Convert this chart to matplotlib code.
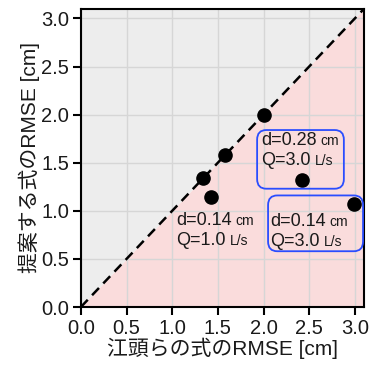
import matplotlib
matplotlib.use("Agg")
import matplotlib.pyplot as plt
from matplotlib.patches import FancyBboxPatch
from matplotlib.offsetbox import TextArea, HPacker, VPacker, AnnotationBbox
import numpy as np

plt.rcParams['font.family'] = ['Liberation Sans', 'Noto Sans CJK JP']

# data
egashira_rmse = [1.34, 1.43, 1.58, 2.00, 2.42, 2.99]
proposed_rmse = [1.34, 1.14, 1.58, 2.00, 1.32, 1.07]
ticks = [0.0, 0.5, 1.0, 1.5, 2.0, 2.5, 3.0]
lim = 3.1

# annotation labels: (d, Q, text anchor, box or None)
labels = [
    ("0.14", "1.0", (1.04, 0.99), None),
    ("0.28", "3.0", (1.97, 1.82), (1.93, 1.23, 0.95, 0.61)),
    ("0.14", "3.0", (2.07, 0.98), (2.05, 0.58, 1.04, 0.58)),
]

fig = plt.figure(figsize=(3.71, 3.69), dpi=100)
ax = fig.add_axes([0.218, 0.168, 0.763, 0.808])

xs = np.array([0, lim])
ax.fill_between(xs, xs, lim, color='#ededed', lw=0, zorder=0)
ax.fill_between(xs, 0, xs, color='#fadcdc', lw=0, zorder=0)
ax.set_axisbelow(True)
ax.grid(True, color='#d6d6d6', lw=1)

ax.plot(xs, xs, ls=(0, (4, 2.5)), color='black', lw=1.8, zorder=2)
ax.scatter(egashira_rmse, proposed_rmse, s=90, color='black', zorder=3)

for d, q, pos, box in labels:
    big = dict(fontsize=13, color='#1a1a1a')
    small = dict(fontsize=10, color='#1a1a1a')
    l1 = HPacker(children=[TextArea("d=" + d, textprops=big),
                           TextArea("cm", textprops=small)],
                 pad=0, sep=3, align='baseline')
    l2 = HPacker(children=[TextArea("Q=" + q, textprops=big),
                           TextArea("L/s", textprops=small)],
                 pad=0, sep=3, align='baseline')
    pack = VPacker(children=[l1, l2], pad=0, sep=2, align='left')
    ab = AnnotationBbox(pack, pos, xycoords='data', box_alignment=(0, 1),
                        frameon=False, pad=0, zorder=4)
    ax.add_artist(ab)
    if box is not None:
        bx, by, bw, bh = box
        ax.add_patch(FancyBboxPatch((bx, by), bw, bh,
                                    boxstyle='round,pad=0,rounding_size=0.1',
                                    fc='none', ec='#2a4dff', lw=1.3, zorder=4))

ax.set_xlim(0, lim)
ax.set_ylim(0, lim)
ax.set_xticks(ticks)
ax.set_yticks(ticks)
ax.set_xticklabels([f"{t:.1f}" for t in ticks])
ax.set_yticklabels([f"{t:.1f}" for t in ticks])
ax.tick_params(labelsize=14.5, length=5.5, width=1.5, pad=3, colors='black',
               labelcolor='#1a1a1a')
for s in ax.spines.values():
    s.set_linewidth(1.5)

ax.set_xlabel("江頭らの式のRMSE [cm]", fontsize=15, color='#1a1a1a', labelpad=0)
ax.set_ylabel("提案する式のRMSE [cm]", fontsize=15, color='#1a1a1a', labelpad=1)

fig.savefig("out.png", dpi=100)
